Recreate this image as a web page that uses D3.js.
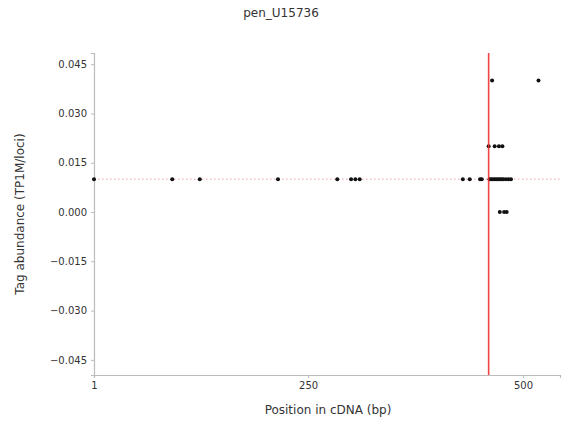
<!DOCTYPE html>
<html>
<head>
<meta charset="utf-8">
<script src="https://cdn.jsdelivr.net/npm/d3@7"></script>
<style>
  body { margin: 0; background: #fff; }
  text { font-family: "DejaVu Sans", sans-serif; fill: #333; }
</style>
</head>
<body>
<div id="chart"></div>
<script>
// chart data
var title = "pen_U15736";
var xTicks = [1, 250, 500];
var yTicks = [-0.045, -0.030, -0.015, 0.000, 0.015, 0.030, 0.045];
var positions = [1, 92, 124, 215, 284, 300, 305, 310, 430, 438, 450, 452,
                 461, 463, 465, 467, 469, 471, 473, 475, 477, 480, 483, 486,
                 460, 467, 472, 476,
                 473, 478, 481,
                 464, 518];
var abundance = [0.01, 0.01, 0.01, 0.01, 0.01, 0.01, 0.01, 0.01, 0.01, 0.01, 0.01, 0.01,
                 0.01, 0.01, 0.01, 0.01, 0.01, 0.01, 0.01, 0.01, 0.01, 0.01, 0.01, 0.01,
                 0.02, 0.02, 0.02, 0.02,
                 0.0, 0.0, 0.0,
                 0.04, 0.04];
var baseline = 0.01;
var markerPos = 460;

var w = 563, h = 427;
var margin = {top: 53, right: 3, bottom: 52, left: 94};

var svg = d3.select("#chart").append("svg")
    .attr("width", w)
    .attr("height", h);

var x = d3.scaleLinear()
    .domain([1, 543])
    .range([margin.left, w - margin.right]);

var y = d3.scaleLinear()
    .domain([-0.0496, 0.0484])
    .range([h - margin.bottom, margin.top]);

// title
svg.append("text")
    .attr("x", 281)
    .attr("y", 17)
    .attr("text-anchor", "middle")
    .style("font-size", "12px")
    .text(title);

// dotted baseline
svg.append("line")
    .attr("x1", x.range()[0])
    .attr("x2", x.range()[1])
    .attr("y1", y(baseline))
    .attr("y2", y(baseline))
    .attr("stroke", "#f4a0a0")
    .attr("stroke-width", 1)
    .attr("stroke-dasharray", "1.5,2.5");

// axes
var xAxis = svg.append("g")
    .attr("transform", "translate(0," + (h - margin.bottom) + ")")
    .call(d3.axisBottom(x).tickValues(xTicks).tickSize(3).tickPadding(4));

var yAxis = svg.append("g")
    .attr("transform", "translate(" + margin.left + ",0)")
    .call(d3.axisLeft(y).tickValues(yTicks).tickSize(3).tickPadding(4)
      .tickFormat(function(d) { return d3.format(".3f")(d).replace("-", "\u2212"); }));

[xAxis, yAxis].forEach(function(g) {
  g.select(".domain").attr("stroke", "#bbb").attr("stroke-width", 1.2);
  g.selectAll(".tick line").attr("stroke", "#bbb");
  g.selectAll("text").style("font-size", "10px").attr("fill", "#333");
});

// points
svg.selectAll("circle.pt")
    .data(positions)
    .enter()
    .append("circle")
      .attr("class", "pt")
      .attr("cx", function(d) { return x(d); })
      .attr("cy", function(d, i) { return y(abundance[i]); })
      .attr("r", 2)
      .attr("fill", "#111");

// red marker line
svg.append("line")
    .attr("x1", x(markerPos))
    .attr("x2", x(markerPos))
    .attr("y1", y.range()[1])
    .attr("y2", y.range()[0])
    .attr("stroke", "#f03030")
    .attr("stroke-width", 1.6)
    .attr("opacity", 0.9);

// axis labels
svg.append("text")
    .attr("x", 328)
    .attr("y", 414)
    .attr("text-anchor", "middle")
    .style("font-size", "12px")
    .text("Position in cDNA (bp)");

svg.append("text")
    .attr("transform", "translate(24," + 214 + ")rotate(-90)")
    .attr("text-anchor", "middle")
    .style("font-size", "12px")
    .text("Tag abundance (TP1M/loci)");
</script>
</body>
</html>
